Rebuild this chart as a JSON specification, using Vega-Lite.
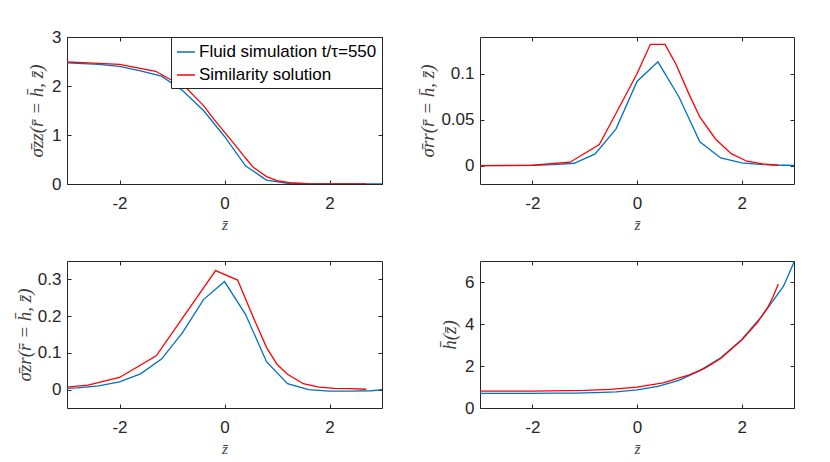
{
  "$schema": "https://vega.github.io/schema/vega-lite/v6.json",
  "background": "white",
  "padding": {"left": 14, "top": 27, "right": 5, "bottom": 5},
  "config": {
    "view": {"stroke": "#262626", "strokeWidth": 1},
    "axis": {
      "domain": false,
      "grid": false,
      "tickColor": "#262626",
      "tickSize": -4,
      "tickWidth": 1,
      "labelFont": "Liberation Sans",
      "labelFontSize": 17,
      "labelColor": "#262626",
      "titleFont": "Liberation Serif",
      "titleFontStyle": "italic",
      "titleFontWeight": "normal",
      "titleFontSize": 19,
      "titleColor": "#404040"
    },
    "axisX": {"titleFontSize": 15},
    "legend": {
      "orient": "none",
      "legendX": 104,
      "legendY": 0,
      "strokeColor": "#262626",
      "fillColor": "white",
      "padding": 5,
      "cornerRadius": 0,
      "symbolType": "stroke",
      "symbolSize": 324,
      "symbolStrokeWidth": 1.5,
      "labelFont": "Liberation Sans",
      "labelFontSize": 17,
      "labelColor": "black",
      "labelOffset": 3,
      "labelLimit": 400,
      "rowPadding": 5,
      "title": null
    }
  },
  "datasets": {
    "szz": [
      {"series": "Fluid simulation t/τ=550", "z": -3.0, "v": 2.47},
      {"series": "Fluid simulation t/τ=550", "z": -2.8, "v": 2.46},
      {"series": "Fluid simulation t/τ=550", "z": -2.4, "v": 2.44},
      {"series": "Fluid simulation t/τ=550", "z": -2.0, "v": 2.40},
      {"series": "Fluid simulation t/τ=550", "z": -1.6, "v": 2.31},
      {"series": "Fluid simulation t/τ=550", "z": -1.2, "v": 2.20},
      {"series": "Fluid simulation t/τ=550", "z": -0.8, "v": 1.91},
      {"series": "Fluid simulation t/τ=550", "z": -0.4, "v": 1.50},
      {"series": "Fluid simulation t/τ=550", "z": 0.0, "v": 0.97},
      {"series": "Fluid simulation t/τ=550", "z": 0.4, "v": 0.37},
      {"series": "Fluid simulation t/τ=550", "z": 0.8, "v": 0.08},
      {"series": "Fluid simulation t/τ=550", "z": 1.2, "v": 0.015},
      {"series": "Fluid simulation t/τ=550", "z": 1.6, "v": 0.003},
      {"series": "Fluid simulation t/τ=550", "z": 2.0, "v": 0.001},
      {"series": "Fluid simulation t/τ=550", "z": 2.4, "v": 0.0},
      {"series": "Fluid simulation t/τ=550", "z": 2.8, "v": 0.0},
      {"series": "Fluid simulation t/τ=550", "z": 3.0, "v": 0.0},
      {"series": "Similarity solution", "z": -3.0, "v": 2.49},
      {"series": "Similarity solution", "z": -2.6, "v": 2.47},
      {"series": "Similarity solution", "z": -2.0, "v": 2.44},
      {"series": "Similarity solution", "z": -1.31, "v": 2.30},
      {"series": "Similarity solution", "z": -0.71, "v": 1.94},
      {"series": "Similarity solution", "z": -0.4, "v": 1.60},
      {"series": "Similarity solution", "z": -0.2, "v": 1.32},
      {"series": "Similarity solution", "z": 0.0, "v": 1.06},
      {"series": "Similarity solution", "z": 0.2, "v": 0.80},
      {"series": "Similarity solution", "z": 0.4, "v": 0.53},
      {"series": "Similarity solution", "z": 0.55, "v": 0.34},
      {"series": "Similarity solution", "z": 0.8, "v": 0.15},
      {"series": "Similarity solution", "z": 1.0, "v": 0.07},
      {"series": "Similarity solution", "z": 1.3, "v": 0.02},
      {"series": "Similarity solution", "z": 1.6, "v": 0.005},
      {"series": "Similarity solution", "z": 2.0, "v": 0.001},
      {"series": "Similarity solution", "z": 2.7, "v": 0.0}
    ],
    "srr": [
      {"series": "Fluid simulation t/τ=550", "z": -3.0, "v": 0.0},
      {"series": "Fluid simulation t/τ=550", "z": -2.4, "v": 0.0001},
      {"series": "Fluid simulation t/τ=550", "z": -2.0, "v": 0.0003},
      {"series": "Fluid simulation t/τ=550", "z": -1.6, "v": 0.001},
      {"series": "Fluid simulation t/τ=550", "z": -1.2, "v": 0.0026},
      {"series": "Fluid simulation t/τ=550", "z": -0.8, "v": 0.0128},
      {"series": "Fluid simulation t/τ=550", "z": -0.4, "v": 0.040},
      {"series": "Fluid simulation t/τ=550", "z": 0.0, "v": 0.0916},
      {"series": "Fluid simulation t/τ=550", "z": 0.4, "v": 0.113},
      {"series": "Fluid simulation t/τ=550", "z": 0.8, "v": 0.075},
      {"series": "Fluid simulation t/τ=550", "z": 1.2, "v": 0.026},
      {"series": "Fluid simulation t/τ=550", "z": 1.6, "v": 0.0084},
      {"series": "Fluid simulation t/τ=550", "z": 2.0, "v": 0.003},
      {"series": "Fluid simulation t/τ=550", "z": 2.4, "v": 0.001},
      {"series": "Fluid simulation t/τ=550", "z": 2.8, "v": 0.0004},
      {"series": "Fluid simulation t/τ=550", "z": 3.0, "v": 0.0002},
      {"series": "Similarity solution", "z": -3.0, "v": 0.0},
      {"series": "Similarity solution", "z": -2.0, "v": 0.0004},
      {"series": "Similarity solution", "z": -1.28, "v": 0.0037},
      {"series": "Similarity solution", "z": -0.72, "v": 0.023},
      {"series": "Similarity solution", "z": -0.4, "v": 0.057},
      {"series": "Similarity solution", "z": 0.0, "v": 0.100},
      {"series": "Similarity solution", "z": 0.255, "v": 0.132},
      {"series": "Similarity solution", "z": 0.536, "v": 0.132},
      {"series": "Similarity solution", "z": 0.747, "v": 0.110},
      {"series": "Similarity solution", "z": 1.0, "v": 0.077},
      {"series": "Similarity solution", "z": 1.2, "v": 0.053},
      {"series": "Similarity solution", "z": 1.5, "v": 0.029},
      {"series": "Similarity solution", "z": 1.8, "v": 0.013},
      {"series": "Similarity solution", "z": 2.1, "v": 0.0048},
      {"series": "Similarity solution", "z": 2.4, "v": 0.0018},
      {"series": "Similarity solution", "z": 2.7, "v": 0.0004}
    ],
    "szr": [
      {"series": "Fluid simulation t/τ=550", "z": -3.0, "v": 0.0036},
      {"series": "Fluid simulation t/τ=550", "z": -2.8, "v": 0.005},
      {"series": "Fluid simulation t/τ=550", "z": -2.4, "v": 0.010},
      {"series": "Fluid simulation t/τ=550", "z": -2.0, "v": 0.021},
      {"series": "Fluid simulation t/τ=550", "z": -1.6, "v": 0.043},
      {"series": "Fluid simulation t/τ=550", "z": -1.2, "v": 0.083},
      {"series": "Fluid simulation t/τ=550", "z": -0.8, "v": 0.155},
      {"series": "Fluid simulation t/τ=550", "z": -0.4, "v": 0.245},
      {"series": "Fluid simulation t/τ=550", "z": 0.0, "v": 0.294},
      {"series": "Fluid simulation t/τ=550", "z": 0.4, "v": 0.205},
      {"series": "Fluid simulation t/τ=550", "z": 0.8, "v": 0.076},
      {"series": "Fluid simulation t/τ=550", "z": 1.2, "v": 0.016},
      {"series": "Fluid simulation t/τ=550", "z": 1.6, "v": 0.0},
      {"series": "Fluid simulation t/τ=550", "z": 2.0, "v": -0.004},
      {"series": "Fluid simulation t/τ=550", "z": 2.4, "v": -0.004},
      {"series": "Fluid simulation t/τ=550", "z": 2.8, "v": -0.003},
      {"series": "Fluid simulation t/τ=550", "z": 3.0, "v": 0.0},
      {"series": "Similarity solution", "z": -3.0, "v": 0.007},
      {"series": "Similarity solution", "z": -2.6, "v": 0.012},
      {"series": "Similarity solution", "z": -2.0, "v": 0.033},
      {"series": "Similarity solution", "z": -1.3, "v": 0.092},
      {"series": "Similarity solution", "z": -0.17, "v": 0.324},
      {"series": "Similarity solution", "z": 0.25, "v": 0.298},
      {"series": "Similarity solution", "z": 0.55, "v": 0.196},
      {"series": "Similarity solution", "z": 0.8, "v": 0.115},
      {"series": "Similarity solution", "z": 1.0, "v": 0.069},
      {"series": "Similarity solution", "z": 1.2, "v": 0.042},
      {"series": "Similarity solution", "z": 1.5, "v": 0.016},
      {"series": "Similarity solution", "z": 1.8, "v": 0.007},
      {"series": "Similarity solution", "z": 2.1, "v": 0.0036},
      {"series": "Similarity solution", "z": 2.4, "v": 0.0027},
      {"series": "Similarity solution", "z": 2.7, "v": 0.001}
    ],
    "h": [
      {"series": "Fluid simulation t/τ=550", "z": -3.0, "v": 0.70},
      {"series": "Fluid simulation t/τ=550", "z": -2.4, "v": 0.70},
      {"series": "Fluid simulation t/τ=550", "z": -2.0, "v": 0.70},
      {"series": "Fluid simulation t/τ=550", "z": -1.6, "v": 0.71},
      {"series": "Fluid simulation t/τ=550", "z": -1.2, "v": 0.71},
      {"series": "Fluid simulation t/τ=550", "z": -0.8, "v": 0.73},
      {"series": "Fluid simulation t/τ=550", "z": -0.4, "v": 0.77},
      {"series": "Fluid simulation t/τ=550", "z": 0.0, "v": 0.86},
      {"series": "Fluid simulation t/τ=550", "z": 0.4, "v": 1.03},
      {"series": "Fluid simulation t/τ=550", "z": 0.8, "v": 1.32},
      {"series": "Fluid simulation t/τ=550", "z": 1.2, "v": 1.78},
      {"series": "Fluid simulation t/τ=550", "z": 1.6, "v": 2.39},
      {"series": "Fluid simulation t/τ=550", "z": 2.0, "v": 3.25},
      {"series": "Fluid simulation t/τ=550", "z": 2.4, "v": 4.42},
      {"series": "Fluid simulation t/τ=550", "z": 2.8, "v": 5.80},
      {"series": "Fluid simulation t/τ=550", "z": 3.0, "v": 6.95},
      {"series": "Similarity solution", "z": -3.0, "v": 0.80},
      {"series": "Similarity solution", "z": -2.0, "v": 0.80},
      {"series": "Similarity solution", "z": -1.0, "v": 0.84},
      {"series": "Similarity solution", "z": -0.5, "v": 0.89},
      {"series": "Similarity solution", "z": 0.0, "v": 0.99},
      {"series": "Similarity solution", "z": 0.5, "v": 1.20},
      {"series": "Similarity solution", "z": 1.0, "v": 1.58},
      {"series": "Similarity solution", "z": 1.3, "v": 1.90},
      {"series": "Similarity solution", "z": 1.6, "v": 2.36},
      {"series": "Similarity solution", "z": 2.0, "v": 3.24},
      {"series": "Similarity solution", "z": 2.3, "v": 4.07},
      {"series": "Similarity solution", "z": 2.5, "v": 4.80},
      {"series": "Similarity solution", "z": 2.6, "v": 5.30},
      {"series": "Similarity solution", "z": 2.7, "v": 5.90}
    ]
  },
  "columns": 2,
  "bounds": "flush",
  "spacing": {"row": 77, "column": 98},
  "resolve": {"legend": {"color": "independent"}},
  "concat": [
    {
      "data": {"name": "szz"},
      "width": 315, "height": 147,
      "resolve": {"axis": {"x": "independent", "y": "independent"}},
      "layer": [
        {
          "mark": {"type": "line", "strokeOpacity": 0},
          "encoding": {
            "x": {"field": "z", "type": "quantitative", "scale": {"domain": [-3, 3], "nice": false, "zero": false},
                  "axis": {"orient": "top", "values": [-2, 0, 2], "labels": false, "title": null}},
            "y": {"field": "v", "type": "quantitative", "scale": {"domain": [0, 3], "nice": false},
                  "axis": {"orient": "right", "values": [0, 1, 2, 3], "labels": false, "title": null}},
            "detail": {"field": "series"}
          }
        },
        {
          "mark": {"type": "line", "strokeWidth": 1.3, "clip": true},
          "encoding": {
            "x": {"field": "z", "type": "quantitative", "scale": {"domain": [-3, 3], "nice": false, "zero": false},
                  "axis": {"orient": "bottom", "values": [-2, 0, 2], "labelExpr": "'' + datum.value", "labelPadding": 15, "title": "z̄", "titlePadding": 6}},
            "y": {"field": "v", "type": "quantitative", "scale": {"domain": [0, 3], "nice": false},
                  "axis": {"orient": "left", "values": [0, 1, 2, 3], "labelExpr": "'' + datum.value", "labelPadding": 10, "title": "σ̄zz(r̄ = h̄, z̄)", "titlePadding": 5}},
            "color": {"field": "series", "type": "nominal",
                      "scale": {"domain": ["Fluid simulation t/τ=550", "Similarity solution"], "range": ["#0072BD", "#FF0000"]}}
          }
        }
      ]
    },
    {
      "data": {"name": "srr"},
      "width": 314, "height": 147,
      "resolve": {"axis": {"x": "independent", "y": "independent"}},
      "layer": [
        {
          "mark": {"type": "line", "strokeOpacity": 0},
          "encoding": {
            "x": {"field": "z", "type": "quantitative", "scale": {"domain": [-3, 3], "nice": false, "zero": false},
                  "axis": {"orient": "top", "values": [-2, 0, 2], "labels": false, "title": null}},
            "y": {"field": "v", "type": "quantitative", "scale": {"domain": [-0.02, 0.14], "nice": false},
                  "axis": {"orient": "right", "values": [0, 0.05, 0.1], "labels": false, "title": null}},
            "detail": {"field": "series"}
          }
        },
        {
          "mark": {"type": "line", "strokeWidth": 1.3, "clip": true},
          "encoding": {
            "x": {"field": "z", "type": "quantitative", "scale": {"domain": [-3, 3], "nice": false, "zero": false},
                  "axis": {"orient": "bottom", "values": [-2, 0, 2], "labelExpr": "'' + datum.value", "labelPadding": 15, "title": "z̄", "titlePadding": 6}},
            "y": {"field": "v", "type": "quantitative", "scale": {"domain": [-0.02, 0.14], "nice": false},
                  "axis": {"orient": "left", "values": [0, 0.05, 0.1], "labelExpr": "'' + datum.value", "labelPadding": 10, "title": "σ̄rr(r̄ = h̄, z̄)", "titlePadding": 3}},
            "color": {"field": "series", "type": "nominal",
                      "scale": {"domain": ["Fluid simulation t/τ=550", "Similarity solution"], "range": ["#0072BD", "#FF0000"]}, "legend": null}
          }
        }
      ]
    },
    {
      "data": {"name": "szr"},
      "width": 315, "height": 147,
      "resolve": {"axis": {"x": "independent", "y": "independent"}},
      "layer": [
        {
          "mark": {"type": "line", "strokeOpacity": 0},
          "encoding": {
            "x": {"field": "z", "type": "quantitative", "scale": {"domain": [-3, 3], "nice": false, "zero": false},
                  "axis": {"orient": "top", "values": [-2, 0, 2], "labels": false, "title": null}},
            "y": {"field": "v", "type": "quantitative", "scale": {"domain": [-0.05, 0.35], "nice": false},
                  "axis": {"orient": "right", "values": [0, 0.1, 0.2, 0.3], "labels": false, "title": null}},
            "detail": {"field": "series"}
          }
        },
        {
          "mark": {"type": "line", "strokeWidth": 1.3, "clip": true},
          "encoding": {
            "x": {"field": "z", "type": "quantitative", "scale": {"domain": [-3, 3], "nice": false, "zero": false},
                  "axis": {"orient": "bottom", "values": [-2, 0, 2], "labelExpr": "'' + datum.value", "labelPadding": 15, "title": "z̄", "titlePadding": 6}},
            "y": {"field": "v", "type": "quantitative", "scale": {"domain": [-0.05, 0.35], "nice": false},
                  "axis": {"orient": "left", "values": [0, 0.1, 0.2, 0.3], "labelExpr": "'' + datum.value", "labelPadding": 10, "title": "σ̄zr(r̄ = h̄, z̄)", "titlePadding": 3}},
            "color": {"field": "series", "type": "nominal",
                      "scale": {"domain": ["Fluid simulation t/τ=550", "Similarity solution"], "range": ["#0072BD", "#FF0000"]}, "legend": null}
          }
        }
      ]
    },
    {
      "data": {"name": "h"},
      "width": 314, "height": 147,
      "resolve": {"axis": {"x": "independent", "y": "independent"}},
      "layer": [
        {
          "mark": {"type": "line", "strokeOpacity": 0},
          "encoding": {
            "x": {"field": "z", "type": "quantitative", "scale": {"domain": [-3, 3], "nice": false, "zero": false},
                  "axis": {"orient": "top", "values": [-2, 0, 2], "labels": false, "title": null}},
            "y": {"field": "v", "type": "quantitative", "scale": {"domain": [0, 7], "nice": false},
                  "axis": {"orient": "right", "values": [0, 2, 4, 6], "labels": false, "title": null}},
            "detail": {"field": "series"}
          }
        },
        {
          "mark": {"type": "line", "strokeWidth": 1.3, "clip": true},
          "encoding": {
            "x": {"field": "z", "type": "quantitative", "scale": {"domain": [-3, 3], "nice": false, "zero": false},
                  "axis": {"orient": "bottom", "values": [-2, 0, 2], "labelExpr": "'' + datum.value", "labelPadding": 15, "title": "z̄", "titlePadding": 6}},
            "y": {"field": "v", "type": "quantitative", "scale": {"domain": [0, 7], "nice": false},
                  "axis": {"orient": "left", "values": [0, 2, 4, 6], "labelExpr": "'' + datum.value", "labelPadding": 10, "title": "h̄(z̄)", "titlePadding": 5}},
            "color": {"field": "series", "type": "nominal",
                      "scale": {"domain": ["Fluid simulation t/τ=550", "Similarity solution"], "range": ["#0072BD", "#FF0000"]}, "legend": null}
          }
        }
      ]
    }
  ]
}
